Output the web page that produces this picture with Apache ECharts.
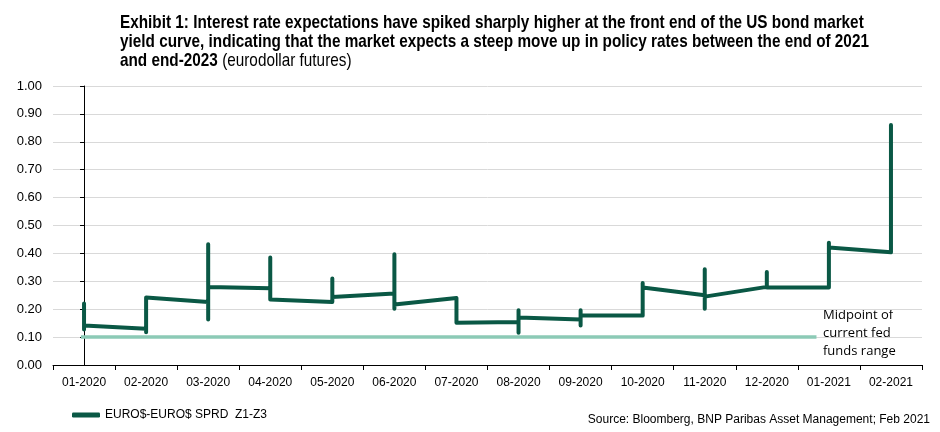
<!DOCTYPE html>
<html>
<head>
<meta charset="utf-8">
<script src="https://cdn.jsdelivr.net/npm/echarts@6/dist/echarts.min.js"></script>
<style>
  html, body { margin: 0; padding: 0; background: #fff; }
  #chart { width: 940px; height: 432px; }
</style>
</head>
<body>
<div id="chart"></div>
<script>
const months = ['01-2020', '02-2020', '03-2020', '04-2020', '05-2020', '06-2020', '07-2020',
  '08-2020', '09-2020', '10-2020', '11-2020', '12-2020', '01-2021', '02-2021'];

// each month: the values the line passes through at that month (arrive, spike high/low, leave)
const spreadPath = [
  [0.22, 0.127, 0.142],
  [0.13, 0.117, 0.242],
  [0.226, 0.433, 0.163, 0.28],
  [0.275, 0.385, 0.235],
  [0.226, 0.31, 0.244],
  [0.256, 0.397, 0.202, 0.217],
  [0.24, 0.151],
  [0.154, 0.196, 0.116, 0.17],
  [0.163, 0.196, 0.142, 0.178],
  [0.177, 0.294, 0.278],
  [0.25, 0.343, 0.202, 0.245],
  [0.28, 0.333, 0.278],
  [0.278, 0.438, 0.421],
  [0.404, 0.86]
];

const fedMid = 0.10;
const fedRange = [-0.05, 11.8];

const font = '"Liberation Sans", Arial, sans-serif';

const spreadData = [];
spreadPath.forEach((vals, i) => {
  vals.forEach(v => spreadData.push([i, v]));
});

const chart = echarts.init(document.getElementById('chart'), null, { renderer: 'canvas' });

chart.setOption({
  animation: false,
  grid: { left: 53, right: 18, top: 86, bottom: 67 },
  legend: {
    left: 67,
    top: 404,
    data: ['EURO$-EURO$ SPRD  Z1-Z3'],
    icon: 'roundRect',
    itemWidth: 28,
    itemHeight: 5,
    textStyle: { fontFamily: font, fontSize: 12, color: '#000' }
  },
  xAxis: [
    {
      type: 'category',
      data: months,
      boundaryGap: true,
      axisLine: { lineStyle: { color: '#000', width: 1 } },
      axisTick: { show: true, length: 5, lineStyle: { color: '#000' } },
      axisLabel: { fontFamily: font, fontSize: 12, color: '#000', margin: 12 },
      splitLine: { show: false }
    },
    {
      type: 'value',
      min: -0.5,
      max: 13.5,
      show: false
    }
  ],
  yAxis: {
    type: 'value',
    min: 0,
    max: 1,
    interval: 0.1,
    axisLine: { show: true, lineStyle: { color: '#000' } },
    axisTick: { show: true, length: 4, lineStyle: { color: '#000' } },
    axisLabel: {
      fontFamily: font, fontSize: 13, color: '#000', margin: 11,
      formatter: v => v.toFixed(2)
    },
    splitLine: { lineStyle: { color: '#d9d9d9', width: 1 } }
  },
  series: [
    {
      name: 'Midpoint of current fed funds range',
      type: 'line',
      xAxisIndex: 1,
      data: [[fedRange[0], fedMid], [fedRange[1], fedMid]],
      showSymbol: false,
      lineStyle: { color: '#8ccab6', width: 3.5 },
      itemStyle: { color: '#8ccab6' },
      z: 2
    },
    {
      name: 'EURO$-EURO$ SPRD  Z1-Z3',
      type: 'line',
      xAxisIndex: 1,
      data: spreadData,
      showSymbol: false,
      lineStyle: { color: '#0a5845', width: 4, cap: 'round', join: 'round' },
      itemStyle: { color: '#0a5845' },
      z: 3
    }
  ],
  graphic: [
    {
      // title, narrow look via horizontal squeeze
      type: 'text',
      x: 120,
      y: 13.5,
      scaleX: 0.806,
      style: {
        text: '{b|Exhibit 1: Interest rate expectations have spiked sharply higher at the front end of the US bond market}\n' +
          '{b|yield curve, indicating that the market expects a steep move up in policy rates between the end of 2021}\n' +
          '{b|and end-2023}{n| (eurodollar futures)}',
        verticalAlign: 'top',
        fill: '#000',
        rich: {
          b: { fontFamily: font, fontSize: 19, fontWeight: 'bold', lineHeight: 19, fill: '#000' },
          n: { fontFamily: font, fontSize: 19, fontWeight: 'normal', lineHeight: 19, fill: '#000' }
        }
      }
    },
    {
      type: 'text',
      left: 823,
      top: 306,
      style: {
        text: 'Midpoint of\ncurrent fed\nfunds range',
        font: '13px "Open Sans", "Noto Sans", sans-serif',
        lineHeight: 18,
        fill: '#000'
      }
    },
    {
      type: 'text',
      right: 10,
      top: 414,
      style: {
        text: 'Source: Bloomberg, BNP Paribas Asset Management; Feb 2021',
        font: '12px ' + font,
        fill: '#000'
      }
    }
  ]
});
</script>
</body>
</html>
